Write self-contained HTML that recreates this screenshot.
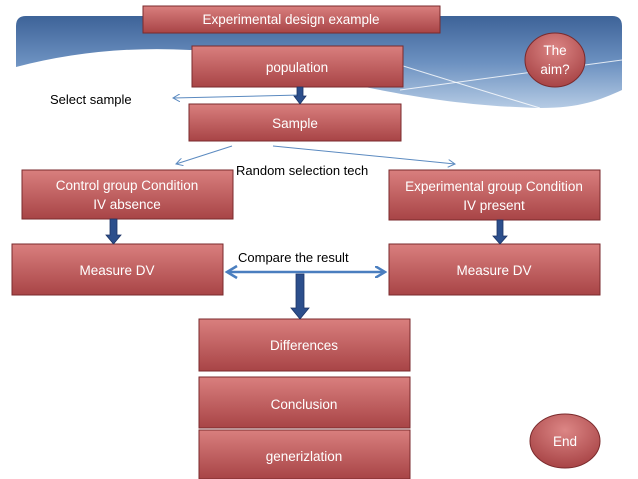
<!DOCTYPE html>
<html><head><style>
html,body{margin:0;padding:0;background:#fff;}
svg{display:block;}
text{font-family:"Liberation Sans",sans-serif;}
</style></head><body>
<svg width="638" height="479" viewBox="0 0 638 479" xmlns="http://www.w3.org/2000/svg">
<defs>
<linearGradient id="bl" x1="0" y1="0" x2="0" y2="1">
<stop offset="0" stop-color="#3d6398"/><stop offset="0.5" stop-color="#6b90c0"/><stop offset="1" stop-color="#b5cbe4"/>
</linearGradient>
<linearGradient id="rd" x1="0" y1="0" x2="0" y2="1">
<stop offset="0" stop-color="#d97f7e"/><stop offset="1" stop-color="#a84446"/>
</linearGradient>
<radialGradient id="rc" cx="0.5" cy="0.3" r="0.7">
<stop offset="0" stop-color="#dc8685"/><stop offset="1" stop-color="#a84446"/>
</radialGradient>
<marker id="ta" markerWidth="8" markerHeight="8" refX="7" refY="4" orient="auto" markerUnits="userSpaceOnUse">
<path d="M0,0 L7,4 L0,8" fill="none" stroke="#5b8ac0" stroke-width="1"/>
</marker>
<marker id="da" markerWidth="12" markerHeight="12" refX="10" refY="6" orient="auto" markerUnits="userSpaceOnUse">
<path d="M0,0 L10,6 L0,12" fill="none" stroke="#4a7ebf" stroke-width="2.5"/>
</marker>
</defs>
<path d="M16,26 Q16,16 26,16 L612,16 Q622,16 622,26 L622,90 C600,100 580,108 540,108 C450,106 380,90 330,80 C260,55 220,48 190,50 Q100,45 16,67 Z" fill="url(#bl)"/>
<path d="M400,90 L622,60" stroke="#fff" stroke-width="1" fill="none" opacity="0.8"/>
<path d="M400,65 Q480,90 540,108" stroke="#fff" stroke-width="1" fill="none" opacity="0.8"/>
<g stroke="#7a2a2c" stroke-width="1">
<rect x="143" y="6" width="297" height="27" fill="url(#rd)"/>
<rect x="192" y="46" width="211" height="41" fill="url(#rd)"/>
<rect x="189" y="104" width="212" height="37" fill="url(#rd)"/>
<rect x="22" y="170" width="211" height="49" fill="url(#rd)"/>
<rect x="389" y="170" width="211" height="50" fill="url(#rd)"/>
<rect x="12" y="244" width="211" height="51" fill="url(#rd)"/>
<rect x="389" y="244" width="211" height="51" fill="url(#rd)"/>
<rect x="199" y="319" width="211" height="52" fill="url(#rd)"/>
<rect x="199" y="377" width="211" height="51" fill="url(#rd)"/>
<rect x="199" y="430" width="211" height="49" fill="url(#rd)"/>
<ellipse cx="555" cy="60" rx="30" ry="27" fill="url(#rc)"/>
<ellipse cx="565" cy="441" rx="35" ry="27" fill="url(#rc)"/>
</g>
<g fill="#fff" font-size="13.5" text-anchor="middle">
<text x="291" y="24">Experimental design  example</text>
<text x="297" y="72">population</text>
<text x="295" y="128">Sample</text>
<text x="127" y="190">Control group Condition</text>
<text x="127" y="209">IV absence</text>
<text x="494" y="191">Experimental  group Condition</text>
<text x="494" y="210">IV present</text>
<text x="117" y="275">Measure DV</text>
<text x="494" y="275">Measure DV</text>
<text x="304" y="350">Differences</text>
<text x="304" y="409">Conclusion</text>
<text x="304" y="461">generizlation</text>
<text x="555" y="55">The</text>
<text x="555" y="74">aim?</text>
<text x="565" y="446">End</text>
</g>
<g fill="#000" font-size="13">
<text x="50" y="104">Select sample</text>
<text x="236" y="175">Random selection tech</text>
<text x="238" y="262">Compare the result</text>
</g>
<g stroke="#5b8ac0" stroke-width="1" fill="none">
<line x1="300" y1="95" x2="173" y2="98" marker-end="url(#ta)"/>
<line x1="232" y1="146" x2="176" y2="164" marker-end="url(#ta)"/>
<line x1="273" y1="146" x2="455" y2="164" marker-end="url(#ta)"/>
</g>
<line x1="227" y1="272" x2="385" y2="272" stroke="#4a7ebf" stroke-width="2.5" marker-end="url(#da)"/>
<path d="M237,266 L227,272 L237,278" fill="none" stroke="#4a7ebf" stroke-width="2.5"/>
<g fill="#2c4f8c" stroke="#1d3566" stroke-width="0.8">
<path d="M297,87 h6 v9 h3 l-6,8 l-6,-8 h3z"/>
<path d="M110,219 h7 v16 h4 l-7.5,9 l-7.5,-9 h4z"/>
<path d="M497,220 h6 v16 h4 l-7,8 l-7,-8 h4z"/>
<path d="M296,274 h8 v34 h5 l-9,11 l-9,-11 h5z"/>
</g>
</svg>
</body></html>
